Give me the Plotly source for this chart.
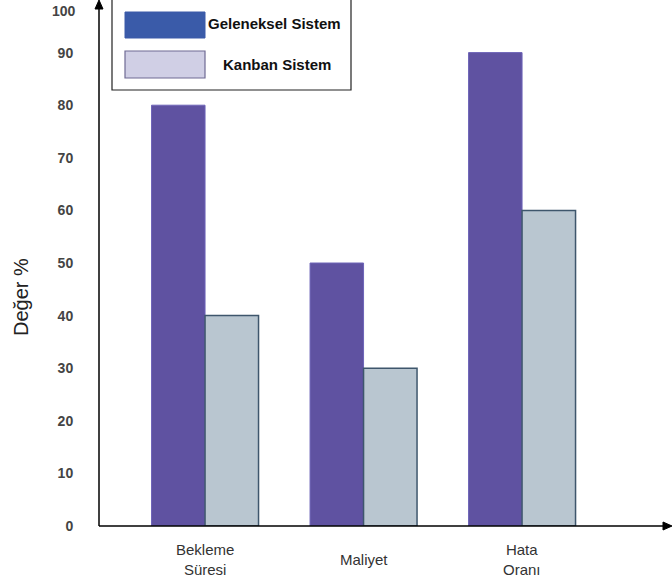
import plotly.graph_objects as go

# Data
categories = ["Bekleme<br>Süresi", "Maliyet", "Hata<br>Oranı"]
geleneksel = [80, 50, 90]
kanban = [40, 30, 60]
tick_values = [0, 10, 20, 30, 40, 50, 60, 70, 80, 90]
series_names = ["Geleneksel Sistem", "Kanban Sistem"]
y_title = "Değer %"

W, H = 672, 583
ML, MR, MT, MB = 99, 0, 0, 57
PW, PH = W - ML - MR, H - MT - MB

def px(x):
    return (x - ML) / PW

def py(y):
    return 1 - (y - MT) / PH

xs = list(range(len(categories)))

fig = go.Figure()
fig.add_trace(go.Bar(
    x=xs, y=geleneksel, name=series_names[0],
    marker=dict(color="#5F52A1", line=dict(color="#6E64B8", width=1)),
))
fig.add_trace(go.Bar(
    x=xs, y=kanban, name=series_names[1],
    marker=dict(color="#B9C6D0", line=dict(color="#3E566C", width=1.5)),
))

shapes = []
# axis lines
shapes.append(dict(type="line", xref="paper", yref="paper",
                   x0=px(99), x1=px(99), y0=py(526), y1=py(6),
                   line=dict(color="black", width=1.5)))
shapes.append(dict(type="line", xref="paper", yref="paper",
                   x0=px(99), x1=px(666), y0=py(526), y1=py(526),
                   line=dict(color="black", width=1.5)))
# arrowheads
shapes.append(dict(type="path", xref="paper", yref="paper",
                   path=f"M {px(99)} {py(0)} L {px(95)} {py(9)} L {px(103)} {py(9)} Z",
                   fillcolor="black", line=dict(color="black", width=1)))
shapes.append(dict(type="path", xref="paper", yref="paper",
                   path=f"M {px(672)} {py(526)} L {px(663)} {py(522)} L {px(663)} {py(530)} Z",
                   fillcolor="black", line=dict(color="black", width=1)))
# legend box and swatches
shapes.append(dict(type="rect", xref="paper", yref="paper",
                   x0=px(112), x1=px(351), y0=py(90), y1=py(-5),
                   fillcolor="white", line=dict(color="#222222", width=1.2)))
shapes.append(dict(type="rect", xref="paper", yref="paper",
                   x0=px(125), x1=px(205), y0=py(38), y1=py(12),
                   fillcolor="#3A5BA9", line=dict(color="#3A5BA9", width=1)))
shapes.append(dict(type="rect", xref="paper", yref="paper",
                   x0=px(125), x1=px(205), y0=py(78), y1=py(51),
                   fillcolor="#D0CFE5", line=dict(color="#6F6A93", width=1.2)))

annotations = []
annotations.append(dict(xref="paper", yref="paper", x=px(206), y=py(24),
                        xanchor="left", yanchor="middle", showarrow=False,
                        text="<b>" + series_names[0] + "</b>",
                        font=dict(size=15, color="#111111")))
annotations.append(dict(xref="paper", yref="paper", x=px(277), y=py(64),
                        xanchor="center", yanchor="middle", showarrow=False,
                        text="<b>" + series_names[1] + "</b>",
                        font=dict(size=15, color="#111111")))
# top tick label placed inside the canvas
annotations.append(dict(xref="paper", yref="paper", x=px(78), y=py(11),
                        xanchor="right", yanchor="middle", showarrow=False,
                        text="<b>100</b>", font=dict(size=14, color="#444444")))
# axis title
annotations.append(dict(xref="paper", yref="paper", x=px(21), y=py(297),
                        xanchor="center", yanchor="middle", showarrow=False,
                        textangle=-90, text=y_title,
                        font=dict(size=20, color="#222222")))
# category labels
for xi, c in zip(xs, categories):
    annotations.append(dict(xref="x", yref="paper", x=xi, y=py(559),
                            xanchor="center", yanchor="middle", showarrow=False,
                            text=c, font=dict(size=15, color="#333333")))

fig.update_layout(
    width=W, height=H,
    margin=dict(l=ML, r=MR, t=MT, b=MB),
    plot_bgcolor="white", paper_bgcolor="white",
    font=dict(family="Liberation Sans, Arial, sans-serif"),
    barmode="group", bargap=0.325, bargroupgap=0,
    showlegend=False,
    shapes=shapes, annotations=annotations,
    xaxis=dict(range=[-0.669, 2.946], showticklabels=False, showgrid=False,
               zeroline=False, showline=False, fixedrange=True),
    yaxis=dict(range=[0, 100], tickvals=tick_values,
               ticktext=[f"<b>{v}</b>" for v in tick_values],
               tickfont=dict(size=14, color="#444444"),
               ticks="outside", ticklen=22, tickcolor="rgba(0,0,0,0)",
               showgrid=False, zeroline=False, showline=False),
)

fig.write_html("out.html")
